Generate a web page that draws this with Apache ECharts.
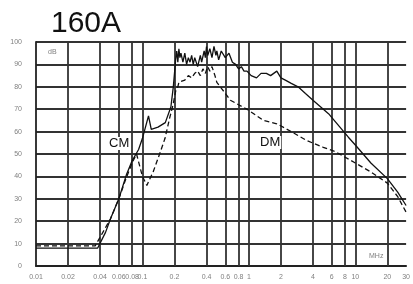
<!DOCTYPE html>
<html>
<head>
<meta charset="utf-8">
<script src="https://cdn.jsdelivr.net/npm/echarts@6/dist/echarts.min.js"></script>
<style>
  html, body { margin: 0; padding: 0; background: #fff; }
  #chart { width: 413px; height: 284px; }
</style>
</head>
<body>
<div id="chart"></div>
<script>
// solid curve (CM)
const cmFreq = [0.01, 0.02, 0.038, 0.045, 0.05, 0.06, 0.071, 0.08, 0.092, 0.1, 0.114, 0.121, 0.14, 0.164, 0.185, 0.195,
  0.2, 0.205, 0.21, 0.215, 0.22, 0.225, 0.23, 0.24, 0.25, 0.26, 0.27, 0.28, 0.29, 0.3, 0.31, 0.33, 0.35, 0.36, 0.38, 0.39,
  0.4, 0.41, 0.43, 0.45, 0.47, 0.49, 0.5, 0.52, 0.55, 0.6, 0.65, 0.7, 0.75, 0.8, 0.85, 0.9, 0.96, 1.05, 1.18, 1.3, 1.46,
  1.6, 1.83, 2.0, 2.2, 2.5, 2.9, 3.4, 4, 5.6, 8.6, 10, 14, 20, 25, 30]
const cmDb = [8, 8, 8, 15, 21, 30, 41, 47, 52, 57, 67, 61, 62, 64, 71, 80,
  86, 92, 96, 91, 97, 93, 95, 91, 95, 90, 93, 91, 94, 90, 93, 89, 94, 91, 96, 93,
  98, 94, 97, 93, 98, 94, 96, 92, 96, 93, 95, 91, 90, 88, 89, 87, 87, 85, 84, 86, 86,
  85, 87, 84, 83, 81.5, 80, 77, 74, 68, 57.5, 54, 46, 39, 33, 27]

// dashed curve (DM)
const dmFreq = [0.01, 0.036, 0.05, 0.06, 0.07, 0.08, 0.088, 0.095, 0.1, 0.11, 0.126, 0.145, 0.163, 0.18, 0.194, 0.205,
  0.215, 0.22, 0.25, 0.27, 0.29, 0.31, 0.33, 0.35, 0.37, 0.39, 0.41, 0.43, 0.45, 0.48, 0.5, 0.58, 0.67, 0.8, 0.96,
  1.37, 1.83, 2.5, 3.5, 5, 6.5, 10, 14, 20, 25, 30]
const dmDb = [9, 9, 21, 30, 39, 46, 50, 44, 40, 36, 42, 50, 57, 66, 72, 78,
  80, 82, 83, 85, 84, 86, 87, 85, 88, 86, 89, 87, 89, 85, 82, 78, 74, 72, 70,
  65, 63.5, 60, 56, 53, 51, 46, 42, 37, 31, 24]

const gridFreqs = [0.02, 0.04, 0.06, 0.08, 0.1, 0.2, 0.4, 0.6, 0.8, 1, 2, 4, 6, 8, 10, 20]
const tickLabels = [0.01, 0.02, 0.04, 0.06, 0.08, 0.1, 0.2, 0.4, 0.6, 0.8, 1, 2, 4, 6, 8, 10, 20, 30]

const zip = (xs, ys) => xs.map((x, i) => [x, ys[i]])

const chart = echarts.init(document.getElementById('chart'))
const font = 'Liberation Sans, Arial, sans-serif'

chart.setOption({
  animation: false,
  title: {
    text: '160A',
    left: 46,
    top: 4,
    textStyle: { fontFamily: font, fontSize: 30, fontWeight: 'normal', color: '#111' },
  },
  grid: { left: 36, right: 0, top: 42, bottom: 18 },
  xAxis: {
    type: 'log',
    logBase: 10,
    min: 0.01,
    max: 30,
    axisLine: { show: true, lineStyle: { color: '#222', width: 1.8 } },
    axisTick: { show: false },
    splitLine: { show: false },
    minorSplitLine: { show: false },
    axisLabel: {
      customValues: tickLabels,
      formatter: (v) => String(+v.toPrecision(3)),
      color: '#808080',
      fontSize: 7,
      fontFamily: font,
      margin: 8,
    },
  },
  yAxis: {
    type: 'value',
    min: 0,
    max: 100,
    interval: 10,
    axisLine: { show: true, lineStyle: { color: '#222', width: 1.8 } },
    axisTick: { show: false },
    splitLine: { show: true, lineStyle: { color: '#333', width: 1.8 } },
    axisLabel: { color: '#808080', fontSize: 7, fontFamily: font, margin: 14 },
  },
  graphic: [
    { type: 'text', left: 48, top: 49, style: { text: 'dB', fill: '#808080', font: '7px ' + font } },
    { type: 'text', left: 369, top: 253, style: { text: 'MHz', fill: '#808080', font: '7px ' + font } },
    {
      type: 'text', left: 108, top: 137, z: 100,
      style: { text: 'CM', fill: '#111', font: '13px ' + font, backgroundColor: '#fff', padding: [0, 1] },
    },
    {
      type: 'text', left: 259, top: 136, z: 100,
      style: { text: 'DM', fill: '#111', font: '13px ' + font, backgroundColor: '#fff', padding: [0, 1] },
    },
  ],
  series: [
    {
      name: 'CM',
      type: 'line',
      data: zip(cmFreq, cmDb),
      symbol: 'none',
      lineStyle: { color: '#111', width: 1.3 },
      z: 3,
      markLine: {
        silent: true,
        symbol: 'none',
        label: { show: false },
        lineStyle: { color: '#333', width: 1.8, type: 'solid' },
        data: gridFreqs.map((f) => ({ xAxis: f })),
        z: 1,
      },
    },
    {
      name: 'DM',
      type: 'line',
      data: zip(dmFreq, dmDb),
      symbol: 'none',
      lineStyle: { color: '#111', width: 1.3, type: [5, 3] },
      z: 4,
    },
  ],
})
</script>
</body>
</html>
